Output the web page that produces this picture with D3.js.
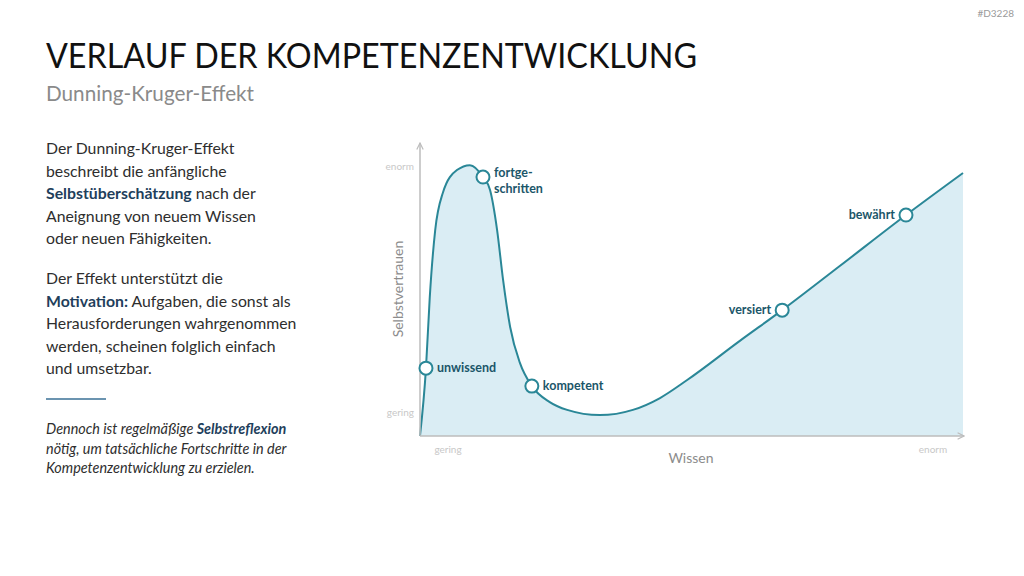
<!DOCTYPE html>
<html>
<head>
<meta charset="utf-8">
<script src="https://cdn.jsdelivr.net/npm/d3@7"></script>
<style>
  body { margin: 0; background: #fff; }
  svg { display: block; font-family: Lato, "Open Sans", sans-serif; }
</style>
</head>
<body>
<svg width="1024" height="576"></svg>
<script>
// curve: Wissen (0..100) vs Selbstvertrauen (0..100)
var wissen = [0, 1.1, 1.8, 2.8, 4.2, 6.8, 9.2, 11.6, 12.9, 14.2, 15.3, 16.6, 18.4, 20.6, 23.9, 27.1, 33.1, 39.2, 44.2, 49.2, 58.9, 66.7, 77.3, 89.5, 100];
var vertrauen = [0, 23.4, 47.9, 71.0, 83.8, 91.7, 93.4, 89.3, 84.8, 71.0, 53.8, 37.6, 25.2, 17.2, 11.7, 9.0, 7.2, 9.0, 13.1, 19.3, 32.8, 43.4, 58.6, 76.2, 90.7];

var stufen = ["unwissend", "fortge-|schritten", "kompetent", "versiert", "bewährt"];
var stufenX = [1.1, 11.6, 20.6, 66.7, 89.5];
var stufenY = [23.4, 89.3, 17.2, 43.4, 76.2];
var stufenSeite = ["right", "right", "right", "left", "left"];

var achsenLabels = ["gering", "enorm"];

var svg = d3.select("svg");

var x = d3.scaleLinear().domain([0, 100]).range([420, 963]);
var y = d3.scaleLinear().domain([0, 100]).range([436, 146]);

var punkte = wissen.map(function(w, i) { return [w, vertrauen[i]]; });

// header
svg.append("text")
  .attr("x", 1014).attr("y", 17)
  .attr("text-anchor", "end")
  .attr("font-size", 10).attr("fill", "#9a9a9a")
  .text("#D3228");

svg.append("text")
  .attr("x", 46).attr("y", 68)
  .attr("font-size", 34).attr("fill", "#111")
  .attr("textLength", 651).attr("lengthAdjust", "spacingAndGlyphs")
  .text("VERLAUF DER KOMPETENZENTWICKLUNG");

svg.append("text")
  .attr("x", 46).attr("y", 101)
  .attr("font-size", 22).attr("fill", "#8a8a8a")
  .attr("textLength", 208).attr("lengthAdjust", "spacingAndGlyphs")
  .text("Dunning-Kruger-Effekt");

// left text block
var absatz1 = [
  [["Der Dunning-Kruger-Effekt", false]],
  [["beschreibt die anfängliche", false]],
  [["Selbstüberschätzung", true], [" nach der", false]],
  [["Aneignung von neuem Wissen", false]],
  [["oder neuen Fähigkeiten.", false]]
];
var absatz2 = [
  [["Der Effekt unterstützt die", false]],
  [["Motivation:", true], [" Aufgaben, die sonst als", false]],
  [["Herausforderungen wahrgenommen", false]],
  [["werden, scheinen folglich einfach", false]],
  [["und umsetzbar.", false]]
];
var absatz3 = [
  [["Dennoch ist regelmäßige ", false], ["Selbstreflexion", true]],
  [["nötig, um tatsächliche Fortschritte in der", false]],
  [["Kompetenzentwicklung zu erzielen.", false]]
];

function schreibe(zeilen, y0, dy, size, italic) {
  zeilen.forEach(function(zeile, i) {
    var t = svg.append("text")
      .attr("x", 46).attr("y", y0 + i * dy)
      .attr("font-size", size)
      .attr("font-style", italic ? "italic" : null)
      .attr("fill", "#2e2e2e");
    zeile.forEach(function(teil) {
      t.append("tspan")
        .attr("font-weight", teil[1] ? "bold" : null)
        .attr("fill", teil[1] ? "#1f3f5c" : null)
        .text(teil[0]);
    });
  });
}
schreibe(absatz1, 154, 22.5, 15.8, false);
schreibe(absatz2, 284, 22.5, 15.8, false);
schreibe(absatz3, 434, 19.6, 14.4, true);

svg.append("line")
  .attr("x1", 46).attr("x2", 106).attr("y1", 399).attr("y2", 399)
  .attr("stroke", "#3a7096").attr("stroke-width", 1.3);

// area + line
var kurve = d3.curveMonotoneX;

svg.append("path")
  .datum(punkte)
  .attr("fill", "#daedf4")
  .attr("d", d3.area()
    .x(function(d) { return x(d[0]); })
    .y0(y(0))
    .y1(function(d) { return y(d[1]); })
    .curve(kurve));

svg.append("path")
  .datum(punkte)
  .attr("fill", "none")
  .attr("stroke", "#2a8797")
  .attr("stroke-width", 2)
  .attr("d", d3.line()
    .x(function(d) { return x(d[0]); })
    .y(function(d) { return y(d[1]); })
    .curve(kurve));

// axes with arrows
var defs = svg.append("defs");
defs.append("marker")
  .attr("id", "pfeil")
  .attr("viewBox", "0 0 10 10")
  .attr("refX", 9).attr("refY", 5)
  .attr("markerWidth", 8).attr("markerHeight", 8)
  .attr("markerUnits", "userSpaceOnUse")
  .attr("orient", "auto")
  .append("path")
  .attr("d", "M1,1 L9,5 L1,9")
  .attr("fill", "none").attr("stroke", "#bdbdbd").attr("stroke-width", 1.5);

svg.append("line")
  .attr("x1", x(0)).attr("y1", y(0)).attr("x2", x(0)).attr("y2", 143)
  .attr("stroke", "#bdbdbd").attr("stroke-width", 1.5)
  .attr("marker-end", "url(#pfeil)");
svg.append("line")
  .attr("x1", x(0)).attr("y1", y(0)).attr("x2", 964).attr("y2", y(0))
  .attr("stroke", "#bdbdbd").attr("stroke-width", 1.5)
  .attr("marker-end", "url(#pfeil)");

// axis end labels
svg.selectAll(".ylab").data(achsenLabels).enter().append("text")
  .attr("x", 414)
  .attr("y", function(d, i) { return i === 0 ? 416 : 170; })
  .attr("text-anchor", "end")
  .attr("font-size", 10).attr("fill", "#c8c8c8")
  .text(function(d) { return d; });

svg.selectAll(".xlab").data(achsenLabels).enter().append("text")
  .attr("x", function(d, i) { return i === 0 ? 448 : 933; })
  .attr("y", 453)
  .attr("text-anchor", "middle")
  .attr("font-size", 10).attr("fill", "#c8c8c8")
  .text(function(d) { return d; });

svg.append("text")
  .attr("x", 691).attr("y", 463)
  .attr("text-anchor", "middle")
  .attr("font-size", 14).attr("fill", "#8c8c8c")
  .text("Wissen");

svg.append("text")
  .attr("transform", "translate(403,289) rotate(-90)")
  .attr("text-anchor", "middle")
  .attr("font-size", 14).attr("fill", "#8c8c8c")
  .text("Selbstvertrauen");

// milestones
stufen.forEach(function(name, i) {
  var cx = x(stufenX[i]), cy = y(stufenY[i]);
  svg.append("circle")
    .attr("cx", cx).attr("cy", cy).attr("r", 6.5)
    .attr("fill", "#fff").attr("stroke", "#2a8797").attr("stroke-width", 2);

  var rechts = stufenSeite[i] === "right";
  var zeilen = name.split("|");
  var t = svg.append("text")
    .attr("x", rechts ? cx + 11 : cx - 11)
    .attr("y", cy + 4 - (zeilen.length > 1 ? 4 : 0))
    .attr("text-anchor", rechts ? "start" : "end")
    .attr("font-size", 12.5).attr("font-weight", "bold")
    .attr("fill", "#1b5669");
  zeilen.forEach(function(z, j) {
    t.append("tspan")
      .attr("x", rechts ? cx + 11 : cx - 11)
      .attr("dy", j === 0 ? 0 : 16)
      .text(z);
  });
});
</script>
</body>
</html>
